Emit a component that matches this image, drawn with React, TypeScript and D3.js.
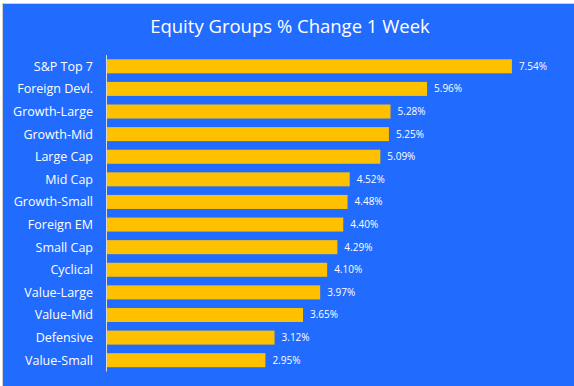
import React from "react";
import * as d3 from "d3";

const categories = ["S&P Top 7","Foreign Devl.","Growth-Large","Growth-Mid","Large Cap","Mid Cap","Growth-Small","Foreign EM","Small Cap","Cyclical","Value-Large","Value-Mid","Defensive","Value-Small"];
const values = [7.54,5.96,5.28,5.25,5.09,4.52,4.48,4.40,4.29,4.10,3.97,3.65,3.12,2.95];
const title = "Equity Groups % Change 1 Week";

const W = 574, H = 386;
const FONT = "'Open Sans', 'DejaVu Sans', sans-serif";

export default function App() {
  const x = d3.scaleLinear().domain([0, 1]).range([107, 107 + 53.7]);
  const y = d3.scaleBand<string>().domain(categories).range([55, 371.5]).paddingInner(0.38).paddingOuter(0.19);
  const bh = y.bandwidth();
  return (
    <svg width={W} height={H} style={{ position: "absolute", left: 0, top: 0 }}>
      <rect x={2.5} y={3.5} width={W} height={H} fill="#226BFF" stroke="#D0D0D0" strokeWidth={1} />
      <text x={290} y={33} textAnchor="middle" fill="#fff" fontFamily={FONT} fontSize={18.5}>{title}</text>
      {categories.map((c, i) => {
        const yy = y(c)!;
        return (
          <g key={c}>
            <rect x={x(0)} y={yy} width={x(values[i]) - x(0)} height={bh} fill="#FFC000" />
            <text x={93} y={yy + bh / 2} dy="0.35em" textAnchor="end" fill="#fff" fontFamily={FONT} fontSize={12.5}>{c}</text>
            <text x={x(values[i]) + 7} y={yy + bh / 2} dy="0.35em" fill="#fff" fontFamily={FONT} fontSize={10}>{values[i].toFixed(2) + "%"}</text>
          </g>
        );
      })}
      <line x1={106.5} x2={106.5} y1={55} y2={371.5} stroke="#D9D9D9" strokeWidth={1} />
    </svg>
  );
}
